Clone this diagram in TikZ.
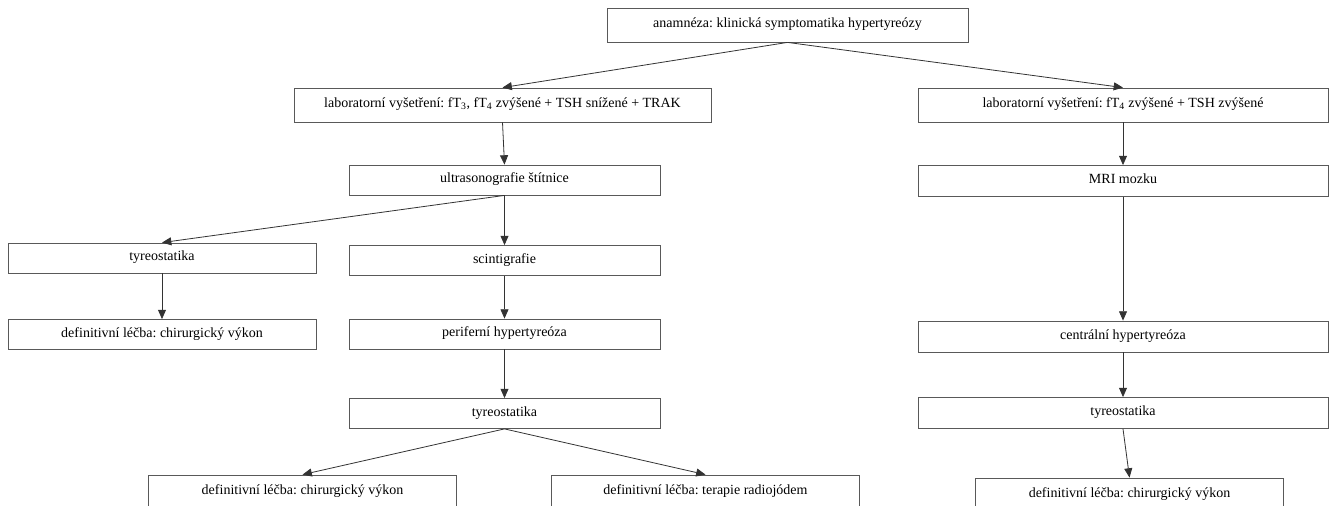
\documentclass[tikz,border=0pt]{standalone}
\usepackage{fontspec}
\setmainfont{Liberation Serif}
\frenchspacing
\usetikzlibrary{arrows.meta,positioning}

\begin{document}
\begin{tikzpicture}[x=0.75pt,y=-0.75pt,
  krok/.style={rectangle, draw=black!65, line width=0.6pt, align=center, font=\fontsize{10.5}{12}\selectfont, inner sep=0pt, text height=8pt, text depth=4pt},
  uzk/.style={krok, minimum width={308*0.75pt}, minimum height={30*0.75pt}},
  str/.style={krok, minimum width={311*0.75pt}, minimum height={30*0.75pt}},
  sir/.style={krok, minimum width={410*0.75pt}, minimum height={31*0.75pt}},
  lin/.style={-{Triangle[length=7pt,width=6pt]}, draw=black!80, line width=0.6pt}
]
\useasboundingbox (0,0) rectangle (1338,506);
% koren
\node[krok, minimum width={361*0.75pt}, minimum height={34*0.75pt}] (anam) at (787.5,25) {anamnéza: klinická symptomatika hypertyreózy};
% laboratorni vysetreni
\node[krok, minimum width={417*0.75pt}, minimum height={34*0.75pt}] (labL) at (502.5,105) {laboratorní vyšetření: fT\textsubscript{3}, fT\textsubscript{4} zvýšené + TSH snížené + TRAK};
\node[sir, minimum height={34*0.75pt}] (labR) at (1123,105) {laboratorní vyšetření: fT\textsubscript{4} zvýšené + TSH zvýšené};
% zobrazovaci metody
\node[str] (usg) at (504.5,180) {ultrasonografie štítnice};
\node[sir] (mri) at (1123,181) {MRI mozku};
% leva vetev
\node[uzk] (tyrL) at (162,258) {tyreostatika};
\node[uzk] (defL) at (162,334.5) {definitivní léčba: chirurgický výkon};
% stredni vetev
\node[str] (scint) at (504.5,260.5) {scintigrafie};
\node[str] (perif) at (504.5,334) {periferní hypertyreóza};
\node[str] (tyrM) at (504.5,413.5) {tyreostatika};
\node[uzk, minimum height={34*0.75pt}] (defBL) at (302.5,492) {definitivní léčba: chirurgický výkon};
\node[uzk, minimum height={34*0.75pt}] (defBM) at (705.5,492) {definitivní léčba: terapie radiojódem};
% prava vetev
\node[sir] (centr) at (1123,336.5) {centrální hypertyreóza};
\node[sir] (tyrR) at (1123,413) {tyreostatika};
\node[uzk, minimum height={34*0.75pt}] (defBR) at (1129.5,495) {definitivní léčba: chirurgický výkon};
% hrany
\draw[lin] (anam.south) -- (labL.north);
\draw[lin] (anam.south) -- (labR.north);
\draw[lin] (labL.south) -- (usg.north);
\draw[lin] (labR.south) -- (mri.north);
\draw[lin] (usg.south) -- (tyrL.north);
\draw[lin] (usg.south) -- (scint.north);
\draw[lin] (tyrL.south) -- (defL.north);
\draw[lin] (scint.south) -- (perif.north);
\draw[lin] (perif.south) -- (tyrM.north);
\draw[lin] (tyrM.south) -- (defBL.north);
\draw[lin] (tyrM.south) -- (defBM.north);
\draw[lin] (mri.south) -- (centr.north);
\draw[lin] (centr.south) -- (tyrR.north);
\draw[lin] (tyrR.south) -- (defBR.north);
\end{tikzpicture}
\end{document}
